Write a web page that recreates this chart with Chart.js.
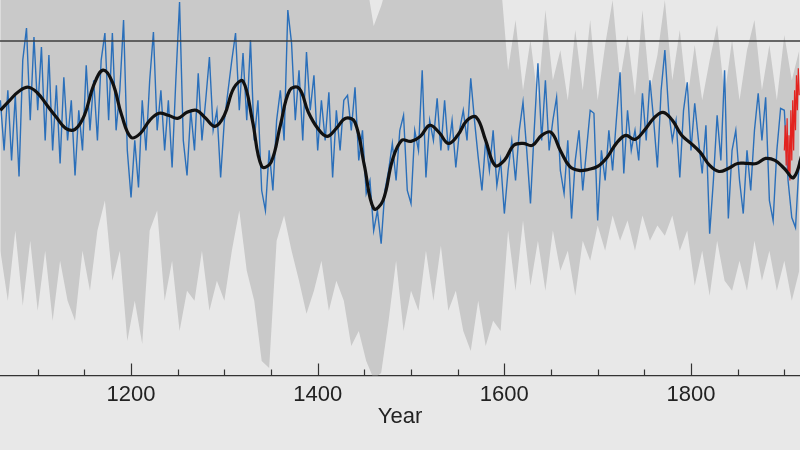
<!DOCTYPE html>
<html>
<head>
<meta charset="utf-8">
<script src="https://cdn.jsdelivr.net/npm/chart.js@4/dist/chart.umd.min.js"></script>
<style>
    html, body { margin: 0; padding: 0; background: #e8e8e8; }
    canvas { display: block; }
</style>
</head>
<body>
<canvas id="chart" width="800" height="450"></canvas>
<script>
// Faixa de anos visível e marcas do eixo
const X_MIN = 1059.6;
const X_MAX = 1916.8;
const MAJOR_STEP = 200;
const MINOR_STEP = 50;

// Série anual (azul), um valor a cada 4 anos a partir de 1060
const blueStart = 1060;
const blueStep = 4;
const blueValues = [
    -0.59, -1.09, -0.49, -1.19, -0.54, -1.35, -0.19, 0.13, -0.79, 0.04,
    -0.69, -0.06, -0.99, -0.14, -1.09, -0.44, -1.22, -0.36, -0.99, -0.59,
    -1.34, -0.69, -1.09, -0.24, -0.89, -0.39, -0.99, -0.19, 0.08, -0.79,
    0.08, -0.89, -0.49, 0.21, -1.09, -1.56, -0.99, -1.46, -0.59, -1.09,
    -0.39, 0.09, -0.89, -0.49, -1.09, -0.59, -1.26, -0.39, 0.39, -0.99,
    -1.34, -0.69, -1.09, -0.32, -0.99, -0.59, -0.16, -0.89, -0.69, -1.36,
    -0.79, -0.49, -0.19, 0.08, -0.69, -0.12, -0.79, 0.01, -0.99, -0.59,
    -1.49, -1.69, -1.09, -1.49, -0.79, -0.49, -0.99, 0.31, -0.02, -0.79,
    -0.29, -0.99, -0.11, -0.69, -0.34, -1.09, -0.59, -0.99, -0.51, -1.36,
    -0.69, -1.09, -0.59, -0.54, -0.89, -0.46, -1.19, -0.89, -1.52, -1.39,
    -1.89, -1.69, -2.02, -1.49, -1.29, -1.02, -1.39, -0.89, -0.74, -1.49,
    -1.62, -0.89, -1.09, -0.29, -1.36, -0.79, -0.99, -0.57, -1.09, -0.59,
    -1.09, -0.79, -1.26, -0.89, -0.69, -0.99, -0.37, -0.79, -1.16, -1.49,
    -0.99, -1.29, -0.89, -1.44, -1.19, -1.72, -1.29, -0.99, -1.39, -0.89,
    -0.61, -1.09, -1.62, -0.89, -0.22, -0.99, -0.39, -1.09, -0.79, -0.56,
    -1.29, -1.52, -0.99, -1.77, -1.19, -0.89, -1.49, -1.09, -0.69, -0.72,
    -1.79, -1.09, -1.39, -0.89, -1.29, -0.79, -0.31, -1.32, -0.69, -1.09,
    -0.89, -1.19, -0.52, -0.99, -0.39, -0.79, -1.26, -0.49, -0.09, -0.69,
    -0.99, -0.79, -1.36, -0.69, -0.41, -1.09, -0.62, -0.99, -1.32, -0.84,
    -1.92, -1.39, -0.74, -1.19, -0.29, -1.77, -1.09, -0.89, -1.39, -1.72,
    -1.09, -1.49, -0.89, -0.52, -0.99, -0.56, -1.59, -1.79, -1.09, -0.67,
    -0.69, -1.39, -1.76, -1.86, -1.19
];

// Curva suavizada (preta), um valor a cada 10 anos
const smoothStart = 1060;
const smoothStep = 10;
const smoothValues = [
    -0.69, -0.59, -0.50, -0.46, -0.52, -0.64, -0.76, -0.87, -0.88, -0.74,
    -0.44, -0.29, -0.41, -0.74, -0.96, -0.92, -0.79, -0.72, -0.74, -0.77,
    -0.71, -0.69, -0.77, -0.85, -0.74, -0.47, -0.40, -0.79, -1.25, -1.21,
    -0.84, -0.49, -0.47, -0.71, -0.87, -0.95, -0.87, -0.77, -0.81, -1.24,
    -1.67, -1.59, -1.19, -0.99, -1.00, -0.95, -0.84, -0.91, -1.02, -0.94,
    -0.79, -0.76, -0.99, -1.24, -1.19, -1.04, -1.02, -1.04, -0.94, -0.91,
    -1.09, -1.25, -1.29, -1.28, -1.25, -1.16, -1.02, -0.94, -0.98, -0.89,
    -0.77, -0.71, -0.79, -0.94, -1.02, -1.11, -1.24, -1.30, -1.27, -1.22,
    -1.22, -1.22, -1.17, -1.19, -1.27, -1.36, -1.10
];

// Faixa de incerteza (cinza), um valor a cada 8 anos
const bandStart = 1060;
const bandStep = 8;
const bandUpper = [
    0.61, 0.61, 0.61, 0.61, 0.61, 0.61, 0.61, 0.61, 0.61, 0.61,
    0.61, 0.61, 0.61, 0.61, 0.61, 0.61, 0.61, 0.61, 0.61, 0.61,
    0.61, 0.61, 0.61, 0.61, 0.61, 0.61, 0.61, 0.61, 0.61, 0.61,
    0.61, 0.61, 0.61, 0.61, 0.61, 0.61, 0.61, 0.61, 0.61, 0.61,
    0.61, 0.61, 0.61, 0.61, 0.61, 0.61, 0.61, 0.61, 0.61, 0.61,
    0.15, 0.35, 0.61, 0.61, 0.61, 0.61, 0.61, 0.61, 0.61, 0.61,
    0.61, 0.61, 0.61, 0.61, 0.61, 0.61, 0.61, 0.61, -0.29, 0.21,
    -0.49, 0.01, -0.59, 0.31, -0.39, -0.09, -0.59, 0.11, -0.49, 0.21,
    -0.59, -0.04, 0.41, -0.39, 0.06, -0.54, 0.31, -0.49, -0.14, 0.41,
    -0.39, 0.11, -0.59, -0.04, -0.59, -0.19, 0.16, -0.54, 0.01, -0.59,
    -0.09, 0.21, -0.49, -0.04, -0.59, 0.06, -0.39, -0.09
];
const bandLower = [
    -2.09, -2.59, -1.89, -2.64, -1.99, -2.69, -2.09, -2.79, -2.19, -2.59,
    -2.79, -2.09, -2.49, -1.89, -1.59, -2.39, -2.09, -2.99, -2.59, -3.02,
    -1.89, -1.69, -2.59, -2.19, -2.89, -2.49, -2.59, -2.09, -2.69, -2.39,
    -2.59, -2.09, -1.69, -2.29, -2.59, -3.19, -3.26, -1.99, -1.74, -2.09,
    -2.39, -2.72, -2.49, -2.19, -2.69, -2.39, -2.59, -3.04, -2.89, -3.19,
    -3.37, -3.31, -2.79, -2.19, -2.89, -2.49, -2.69, -2.09, -2.59, -2.04,
    -2.69, -2.49, -2.89, -3.09, -2.59, -3.04, -2.79, -2.89, -1.89, -2.49,
    -1.79, -2.44, -1.99, -2.49, -1.89, -2.29, -2.09, -2.54, -1.99, -2.19,
    -1.84, -2.09, -1.74, -1.99, -1.79, -2.09, -1.74, -1.99, -1.84, -1.94,
    -1.74, -2.09, -1.89, -2.44, -2.09, -2.54, -1.99, -2.39, -2.49, -2.19,
    -2.49, -1.99, -2.39, -2.09, -2.49, -2.19, -2.59, -2.29
];

// Registro instrumental (vermelho), anual a partir de 1900
const redStart = 1900;
const redStep = 1;
const redValues = [
    -1.09, -0.84, -1.24, -0.77, -1.29, -0.94, -1.39, -0.69, -1.19,
    -0.59, -1.09, -0.49, -0.89, -0.34, -0.69, -0.27, -0.54
];

// Linha de referência horizontal
const referenceLevel = 0;

/**
 * Converte uma lista de valores em pontos {x, y}
 */
function toPoints(start, step, values) {
    return values.map((v, i) => ({ x: start + i * step, y: v }));
}

// Marcas do eixo X desenhadas para dentro da área do gráfico
const innerTicks = {
    id: 'innerTicks',
    afterDatasetsDraw(chart) {
        const ctx = chart.ctx;
        const xScale = chart.scales.x;
        const bottom = chart.chartArea.bottom;
        ctx.save();
        ctx.strokeStyle = '#333';
        ctx.lineWidth = 1.2;
        for (let v = Math.ceil(X_MIN / MINOR_STEP) * MINOR_STEP; v <= X_MAX; v += MINOR_STEP) {
            const x = Math.round(xScale.getPixelForValue(v)) + 0.5;
            const len = v % MAJOR_STEP === 0 ? 12 : 6;
            ctx.beginPath();
            ctx.moveTo(x, bottom);
            ctx.lineTo(x, bottom - len);
            ctx.stroke();
        }
        ctx.restore();
    }
};

const ctx = document.getElementById('chart').getContext('2d');

new Chart(ctx, {
    type: 'line',
    data: {
        datasets: [
            {
                data: toPoints(bandStart, bandStep, bandUpper),
                borderWidth: 0,
                backgroundColor: '#c9c9c9',
                fill: '+1',
                pointRadius: 0,
                order: 5
            },
            {
                data: toPoints(bandStart, bandStep, bandLower),
                borderWidth: 0,
                pointRadius: 0,
                fill: false,
                order: 5
            },
            {
                data: toPoints(blueStart, blueStep, blueValues),
                borderColor: '#2a6fba',
                borderWidth: 1.4,
                pointRadius: 0,
                fill: false,
                order: 4
            },
            {
                data: toPoints(redStart, redStep, redValues),
                borderColor: '#e3231f',
                borderWidth: 1.2,
                pointRadius: 0,
                fill: false,
                order: 3
            },
            {
                data: toPoints(smoothStart, smoothStep, smoothValues),
                borderColor: '#111111',
                borderWidth: 3.2,
                tension: 0.4,
                pointRadius: 0,
                fill: false,
                order: 2
            },
            {
                data: [{ x: X_MIN, y: referenceLevel }, { x: X_MAX, y: referenceLevel }],
                borderColor: '#3c3c3c',
                borderWidth: 1.5,
                pointRadius: 0,
                fill: false,
                order: 1
            }
        ]
    },
    options: {
        responsive: false,
        animation: false,
        layout: {
            padding: { left: 0, right: 0, top: 0, bottom: 22.5 }
        },
        plugins: {
            legend: { display: false },
            tooltip: { enabled: false }
        },
        scales: {
            x: {
                type: 'linear',
                min: X_MIN,
                max: X_MAX,
                grid: { display: false },
                border: { display: true, color: '#333', width: 1.2 },
                ticks: {
                    stepSize: MAJOR_STEP,
                    includeBounds: false,
                    autoSkip: false,
                    maxRotation: 0,
                    padding: 0.5,
                    color: '#222',
                    font: { family: 'Liberation Sans, Arial, sans-serif', size: 22, lineHeight: 1 },
                    callback: (value) => String(value)
                },
                title: {
                    display: true,
                    text: 'Year',
                    color: '#222',
                    padding: { top: -1, bottom: 0 },
                    font: { family: 'Liberation Sans, Arial, sans-serif', size: 22, lineHeight: 1 }
                }
            },
            y: {
                display: false,
                min: -3.335,
                max: 0.41
            }
        }
    },
    plugins: [innerTicks]
});
</script>
</body>
</html>
